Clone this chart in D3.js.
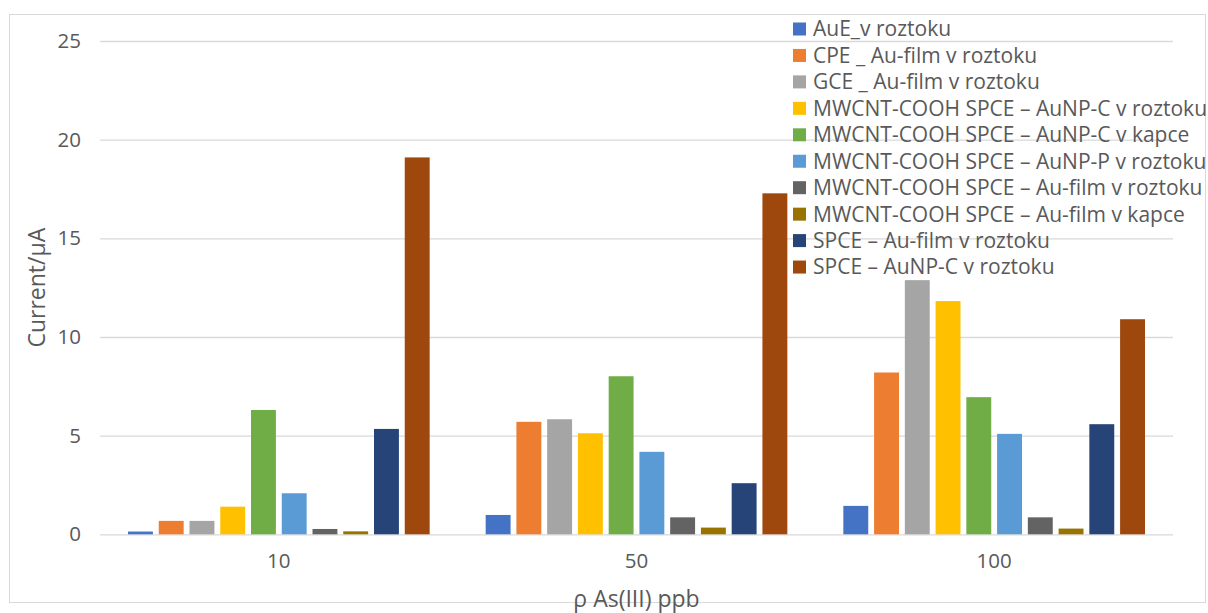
<!DOCTYPE html>
<html><head><meta charset="utf-8">
<script src="https://cdn.jsdelivr.net/npm/d3@7"></script>
<style>
html,body{margin:0;padding:0;background:#fff;}
svg{display:block;font-family:"Open Sans",sans-serif;}
</style></head>
<body><svg id="chart" width="1208" height="613"></svg>
<script>
const categories = ["10", "50", "100"];
const seriesNames = [
  "AuE_v roztoku",
  "CPE _ Au-film v roztoku",
  "GCE _ Au-film v roztoku",
  "MWCNT-COOH SPCE – AuNP-C v roztoku",
  "MWCNT-COOH SPCE – AuNP-C v kapce",
  "MWCNT-COOH SPCE – AuNP-P v roztoku",
  "MWCNT-COOH SPCE – Au-film v roztoku",
  "MWCNT-COOH SPCE – Au-film v kapce",
  "SPCE – Au-film v roztoku",
  "SPCE – AuNP-C v roztoku"
];
const seriesColors = ["#4472C4","#ED7D31","#A5A5A5","#FFC000","#70AD47","#5B9BD5","#636363","#997300","#264478","#9E480E"];
const values10  = [0.14, 0.68, 0.68, 1.40, 6.30, 2.08, 0.27, 0.15, 5.34, 19.1];
const values50  = [0.98, 5.70, 5.83, 5.12, 8.01, 4.18, 0.86, 0.34, 2.59, 17.28];
const values100 = [1.44, 8.20, 12.88, 11.82, 6.95, 5.09, 0.86, 0.29, 5.58, 10.9];
const yTicks = [0, 5, 10, 15, 20, 25];
const yTitle = "Current/μA";
const xTitle = "ρ As(III) ppb";

(function () {
const groupValues = [values10, values50, values100];
const svg = d3.select("#chart");
const mLeft = 100, mRight = 1173, mTop = 41, mBottom = 534.3;
const textColor = "#595959";

// chart border
svg.append("rect").attr("x", 9.5).attr("y", 14.5).attr("width", 1196).attr("height", 588)
  .attr("fill", "none").attr("stroke", "#d9d9d9").attr("stroke-width", 1);

const y = d3.scaleLinear().domain([0, 25]).range([mBottom, mTop]);
const x0 = d3.scaleBand().domain(categories).range([mLeft, mRight]).padding(0);
const outer = 28;
const x1 = d3.scaleBand().domain(d3.range(seriesNames.length))
  .range([outer, x0.bandwidth() - outer]).paddingInner(0.19).paddingOuter(0);

// gridlines
const yAxis = d3.axisLeft(y).tickValues(yTicks).tickSize(-(mRight - mLeft)).tickPadding(19);
const gy = svg.append("g").attr("transform", `translate(${mLeft},0)`).call(yAxis);
gy.select(".domain").remove();
gy.selectAll(".tick line").attr("stroke", "#d9d9d9").attr("stroke-width", 1.3);
gy.selectAll(".tick text").attr("fill", textColor).style("font-size", "20.5px")
  .style("font-family", "Open Sans, sans-serif");

// bars
const groups = svg.append("g").selectAll("g").data(categories).join("g")
  .attr("transform", d => `translate(${x0(d)},0)`);
groups.selectAll("rect").data((d, gi) => groupValues[gi].map((v, si) => ({v, si})))
  .join("rect")
  .attr("x", d => x1(d.si))
  .attr("width", x1.bandwidth())
  .attr("y", d => y(d.v))
  .attr("height", d => y(0) - y(d.v))
  .attr("fill", d => seriesColors[d.si]);

// x axis labels
const xAxis = d3.axisBottom(x0).tickSize(0).tickPadding(19);
const gx = svg.append("g").attr("transform", `translate(0,${mBottom})`).call(xAxis);
gx.select(".domain").remove();
gx.selectAll(".tick text").attr("fill", textColor).style("font-size", "20.5px")
  .style("font-family", "Open Sans, sans-serif");

// axis titles
svg.append("text").text(xTitle).attr("x", (mLeft + mRight) / 2).attr("y", 607)
  .attr("text-anchor", "middle").attr("fill", textColor).style("font-size", "23px");
svg.append("text").text(yTitle)
  .attr("transform", `translate(45,${(mTop + mBottom) / 2}) rotate(-90)`)
  .attr("text-anchor", "middle").attr("fill", textColor).style("font-size", "23px");

// legend
const lg = svg.append("g");
const rowH = 26.45, ly0 = 29;
const items = lg.selectAll("g").data(seriesNames).join("g")
  .attr("transform", (d, i) => `translate(793,${ly0 + i * rowH})`);
items.append("rect").attr("x", 0).attr("y", -6.5).attr("width", 13).attr("height", 13)
  .attr("fill", (d, i) => seriesColors[i]);
const lt = items.append("text").text(d => d).attr("x", 20).attr("y", 0).attr("dy", "0.35em")
  .attr("fill", textColor).style("font-size", "18px");
const longest = lt.filter((d, i) => i === 3).node();
const w = longest.getComputedTextLength();
const fs = 18 * 394 / w;
lt.style("font-size", fs.toFixed(2) + "px");
})();
</script>
</body></html>
